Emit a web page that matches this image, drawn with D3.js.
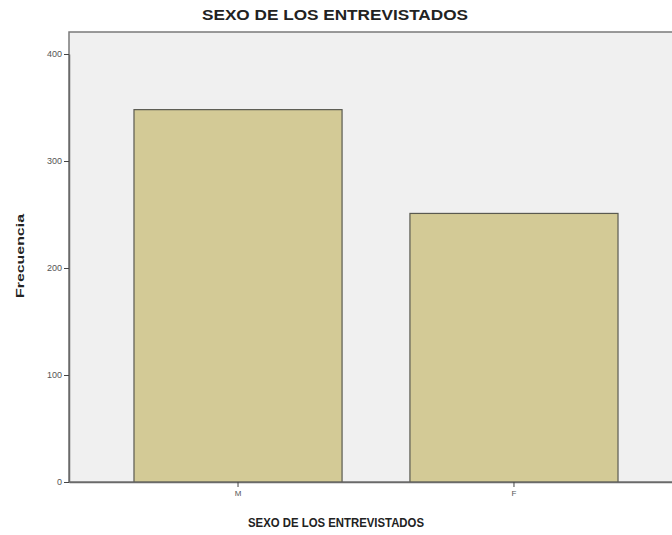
<!DOCTYPE html>
<html><head><meta charset="utf-8">
<script src="https://cdn.jsdelivr.net/npm/d3@7"></script>
<style>body{margin:0;background:#fff;}svg{display:block;}</style>
</head><body>
<svg id="c" width="672" height="535"></svg>
<script>
const categories = ["M", "F"];
const frequencies = [348, 251];
const yTicks = [0, 100, 200, 300, 400];
const title = "SEXO DE LOS ENTREVISTADOS";
const xTitle = "SEXO DE LOS ENTREVISTADOS";
const yTitle = "Frecuencia";

(function () {
const svg = d3.select("#c");
const pLeft = 69, pTop = 32, pBottom = 482, pRight = 683;
const font = "Liberation Sans, Arial, sans-serif";

const y = d3.scaleLinear().domain([0, 400]).range([pBottom, 54]);
const x = d3.scaleBand().domain(categories).range([pLeft, pRight])
  .paddingInner(0.246).paddingOuter(0.2355);

svg.append("rect").attr("x", pLeft).attr("y", pTop)
  .attr("width", pRight - pLeft).attr("height", pBottom - pTop)
  .attr("fill", "#f0f0f0").attr("stroke", "#7a7a7a").attr("stroke-width", 1.5);

svg.selectAll("rect.bar").data(categories).join("rect").attr("class", "bar")
  .attr("x", d => x(d)).attr("width", x.bandwidth())
  .attr("y", (d, i) => y(frequencies[i]))
  .attr("height", (d, i) => pBottom - y(frequencies[i]))
  .attr("fill", "#d3ca96").attr("stroke", "#5a5a50").attr("stroke-width", 1.2);

const ya = svg.append("g").attr("transform", `translate(${pLeft},0)`)
  .call(d3.axisLeft(y).tickValues(yTicks).tickSize(5).tickSizeOuter(0).tickPadding(2));
ya.select(".domain").attr("stroke", "#6a6a6a").attr("stroke-width", 1.5);
ya.selectAll(".tick line").attr("stroke", "#444");
ya.selectAll(".tick text").attr("font-family", font)
  .attr("font-size", 9).attr("fill", "#555");

const xa = svg.append("g").attr("transform", `translate(0,${pBottom})`)
  .call(d3.axisBottom(x).tickSize(5).tickSizeOuter(0).tickPadding(3));
xa.select(".domain").attr("stroke", "#6a6a6a").attr("stroke-width", 1.5);
xa.selectAll(".tick line").attr("stroke", "#444");
xa.selectAll(".tick text").attr("font-family", font)
  .attr("font-size", 8).attr("fill", "#555");

svg.append("text").attr("x", 335).attr("y", 20).attr("text-anchor", "middle")
  .attr("font-family", font).attr("font-weight", "bold")
  .attr("font-size", 14.5).attr("textLength", 266).attr("lengthAdjust", "spacingAndGlyphs")
  .attr("fill", "#222").text(title);

svg.append("text").attr("x", 336).attr("y", 527).attr("text-anchor", "middle")
  .attr("font-family", font).attr("font-weight", "bold")
  .attr("font-size", 12).attr("textLength", 176).attr("lengthAdjust", "spacingAndGlyphs")
  .attr("fill", "#222").text(xTitle);

svg.append("text").attr("transform", "translate(24,256) rotate(-90)").attr("text-anchor", "middle")
  .attr("font-family", font).attr("font-weight", "bold")
  .attr("font-size", 11.5).attr("textLength", 84).attr("lengthAdjust", "spacingAndGlyphs")
  .attr("fill", "#222").text(yTitle);
})();
</script>
</body></html>
